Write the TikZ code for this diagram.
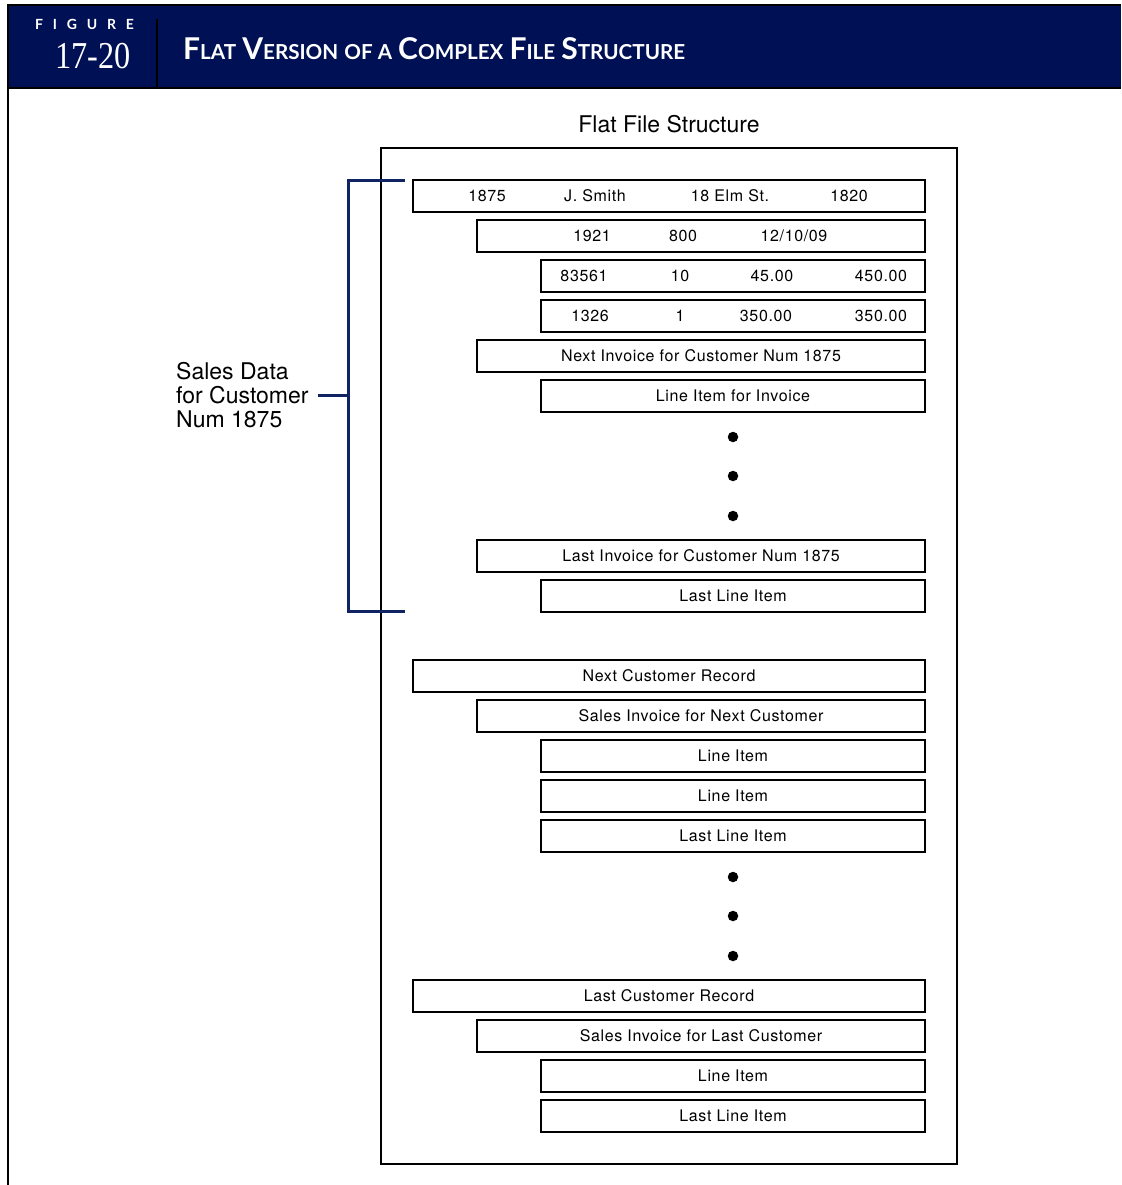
\documentclass[tikz,border=0pt]{standalone}
\usepackage{fontspec}
\setmainfont{TeX Gyre Heros}
\newfontfamily\boxfont[LetterSpace=4]{TeX Gyre Heros}
\newfontfamily\serifnum{Liberation Serif}
\newfontfamily\headfont{Lato}
\newfontfamily\figfont[LetterSpace=70]{Lato}
\definecolor{navy}{RGB}{0,16,84}
\definecolor{brk}{RGB}{16,36,100}
\newcommand\bigC[1]{{\fontsize{24}{24}\selectfont #1}}
\newcommand\smC[1]{{\fontsize{16.5}{16.5}\selectfont #1}}
\begin{document}
\begin{tikzpicture}[x=1pt,y=-1pt,
  rec/.style={draw, line width=1.2pt, minimum height=32pt, inner sep=0pt,
    font=\boxfont\fontsize{16}{16}\selectfont, text height=11.5pt, text depth=0pt},
  lv0/.style={rec, minimum width=512pt},
  lv1/.style={rec, minimum width=448pt},
  lv2/.style={rec, minimum width=384pt},
  fld/.style={inner sep=0pt, font=\boxfont\fontsize{16}{16}\selectfont,
    text height=11.5pt, text depth=0pt},
  dotn/.style={circle, fill=black, inner sep=0pt, minimum size=10.5pt},
  brline/.style={draw=brk, line width=3pt}]
\useasboundingbox (0,0) rectangle (1121,1185);
% header
\fill[navy] (7,5) rectangle (1121,88);
\draw[line width=2pt] (7,5) -- (1121,5);
\draw[line width=2pt] (7,88) -- (1121,88);
\draw[line width=2pt] (8,4) -- (8,1185);
\draw[line width=2pt] (157,19) -- (157,88);
\node[anchor=west, text=white, inner sep=0pt,
  font=\figfont\bfseries\fontsize{14}{14}\selectfont] (fig) at (35,24) {FIGURE};
\node[text=white, inner sep=0pt] (num) at (93,56)
  {\scalebox{0.85}[1]{\serifnum\fontsize{38}{38}\selectfont 17-20}};
\node[anchor=west, text=white, inner sep=0pt] (title) at (183,49)
  {\resizebox{502pt}{!}{\headfont\bfseries\fontsize{20}{20}\selectfont
   \bigC{F}\smC{LAT} \bigC{V}\smC{ERSION} \smC{OF A} \bigC{C}\smC{OMPLEX} \bigC{F}\smC{ILE} \bigC{S}\smC{TRUCTURE}}};
% caption
\node[inner sep=0pt, font=\fontsize{23}{23}\selectfont] (fft) at (669,124) {Flat File Structure};
% outer box
\node[draw, line width=1.2pt, minimum width=576pt, minimum height=1016pt, inner sep=0pt] (outer) at (669,656) {};
% rows
\node[lv0] (r1) at (669,196) {};
\node[fld] (r1a) at (487,196) {1875};
\node[fld] (r1b) at (595,196) {J. Smith};
\node[fld] (r1c) at (730,196) {18 Elm St.};
\node[fld] (r1d) at (849,196) {1820};
\node[lv1] (r2) at (701,236) {};
\node[fld] (r2a) at (592,236) {1921};
\node[fld] (r2b) at (683,236) {800};
\node[fld] (r2c) at (794,236) {12/10/09};
\node[lv2] (r3) at (733,276) {};
\node[fld] (r3a) at (584,276) {83561};
\node[fld] (r3b) at (680,276) {10};
\node[fld] (r3c) at (772,276) {45.00};
\node[fld] (r3d) at (881,276) {450.00};
\node[lv2] (r4) at (733,316) {};
\node[fld] (r4a) at (590,316) {1326};
\node[fld] (r4b) at (680,316) {1};
\node[fld] (r4c) at (766,316) {350.00};
\node[fld] (r4d) at (881,316) {350.00};
\node[lv1] (r5) at (701,356) {Next Invoice for Customer Num 1875};
\node[lv2] (r6) at (733,396) {Line Item for Invoice};
\node[dotn] (d1) at (733,437) {};
\node[dotn] (d2) at (733,476) {};
\node[dotn] (d3) at (733,516) {};
\node[lv1] (r7) at (701,556) {Last Invoice for Customer Num 1875};
\node[lv2] (r8) at (733,596) {Last Line Item};
\node[lv0] (r9) at (669,676) {Next Customer Record};
\node[lv1] (r10) at (701,716) {Sales Invoice for Next Customer};
\node[lv2] (r11) at (733,756) {Line Item};
\node[lv2] (r12) at (733,796) {Line Item};
\node[lv2] (r13) at (733,836) {Last Line Item};
\node[dotn] (d4) at (733,877) {};
\node[dotn] (d5) at (733,916) {};
\node[dotn] (d6) at (733,956) {};
\node[lv0] (r14) at (669,996) {Last Customer Record};
\node[lv1] (r15) at (701,1036) {Sales Invoice for Last Customer};
\node[lv2] (r16) at (733,1076) {Line Item};
\node[lv2] (r17) at (733,1116) {Last Line Item};
% bracket
\coordinate (bt) at (405,181);
\coordinate (bb) at (405,611);
\coordinate (bm) at (348,395);
\draw[brline] (bt) -- (348,181) -- (348,611) -- (bb);
\node[anchor=west, inner sep=0pt, align=left, font=\fontsize{23}{24}\selectfont] (lbl) at (176,395)
  {Sales Data\\for Customer\\Num 1875};
\draw[brline] (bm) -- (318,395);
\end{tikzpicture}
\end{document}
